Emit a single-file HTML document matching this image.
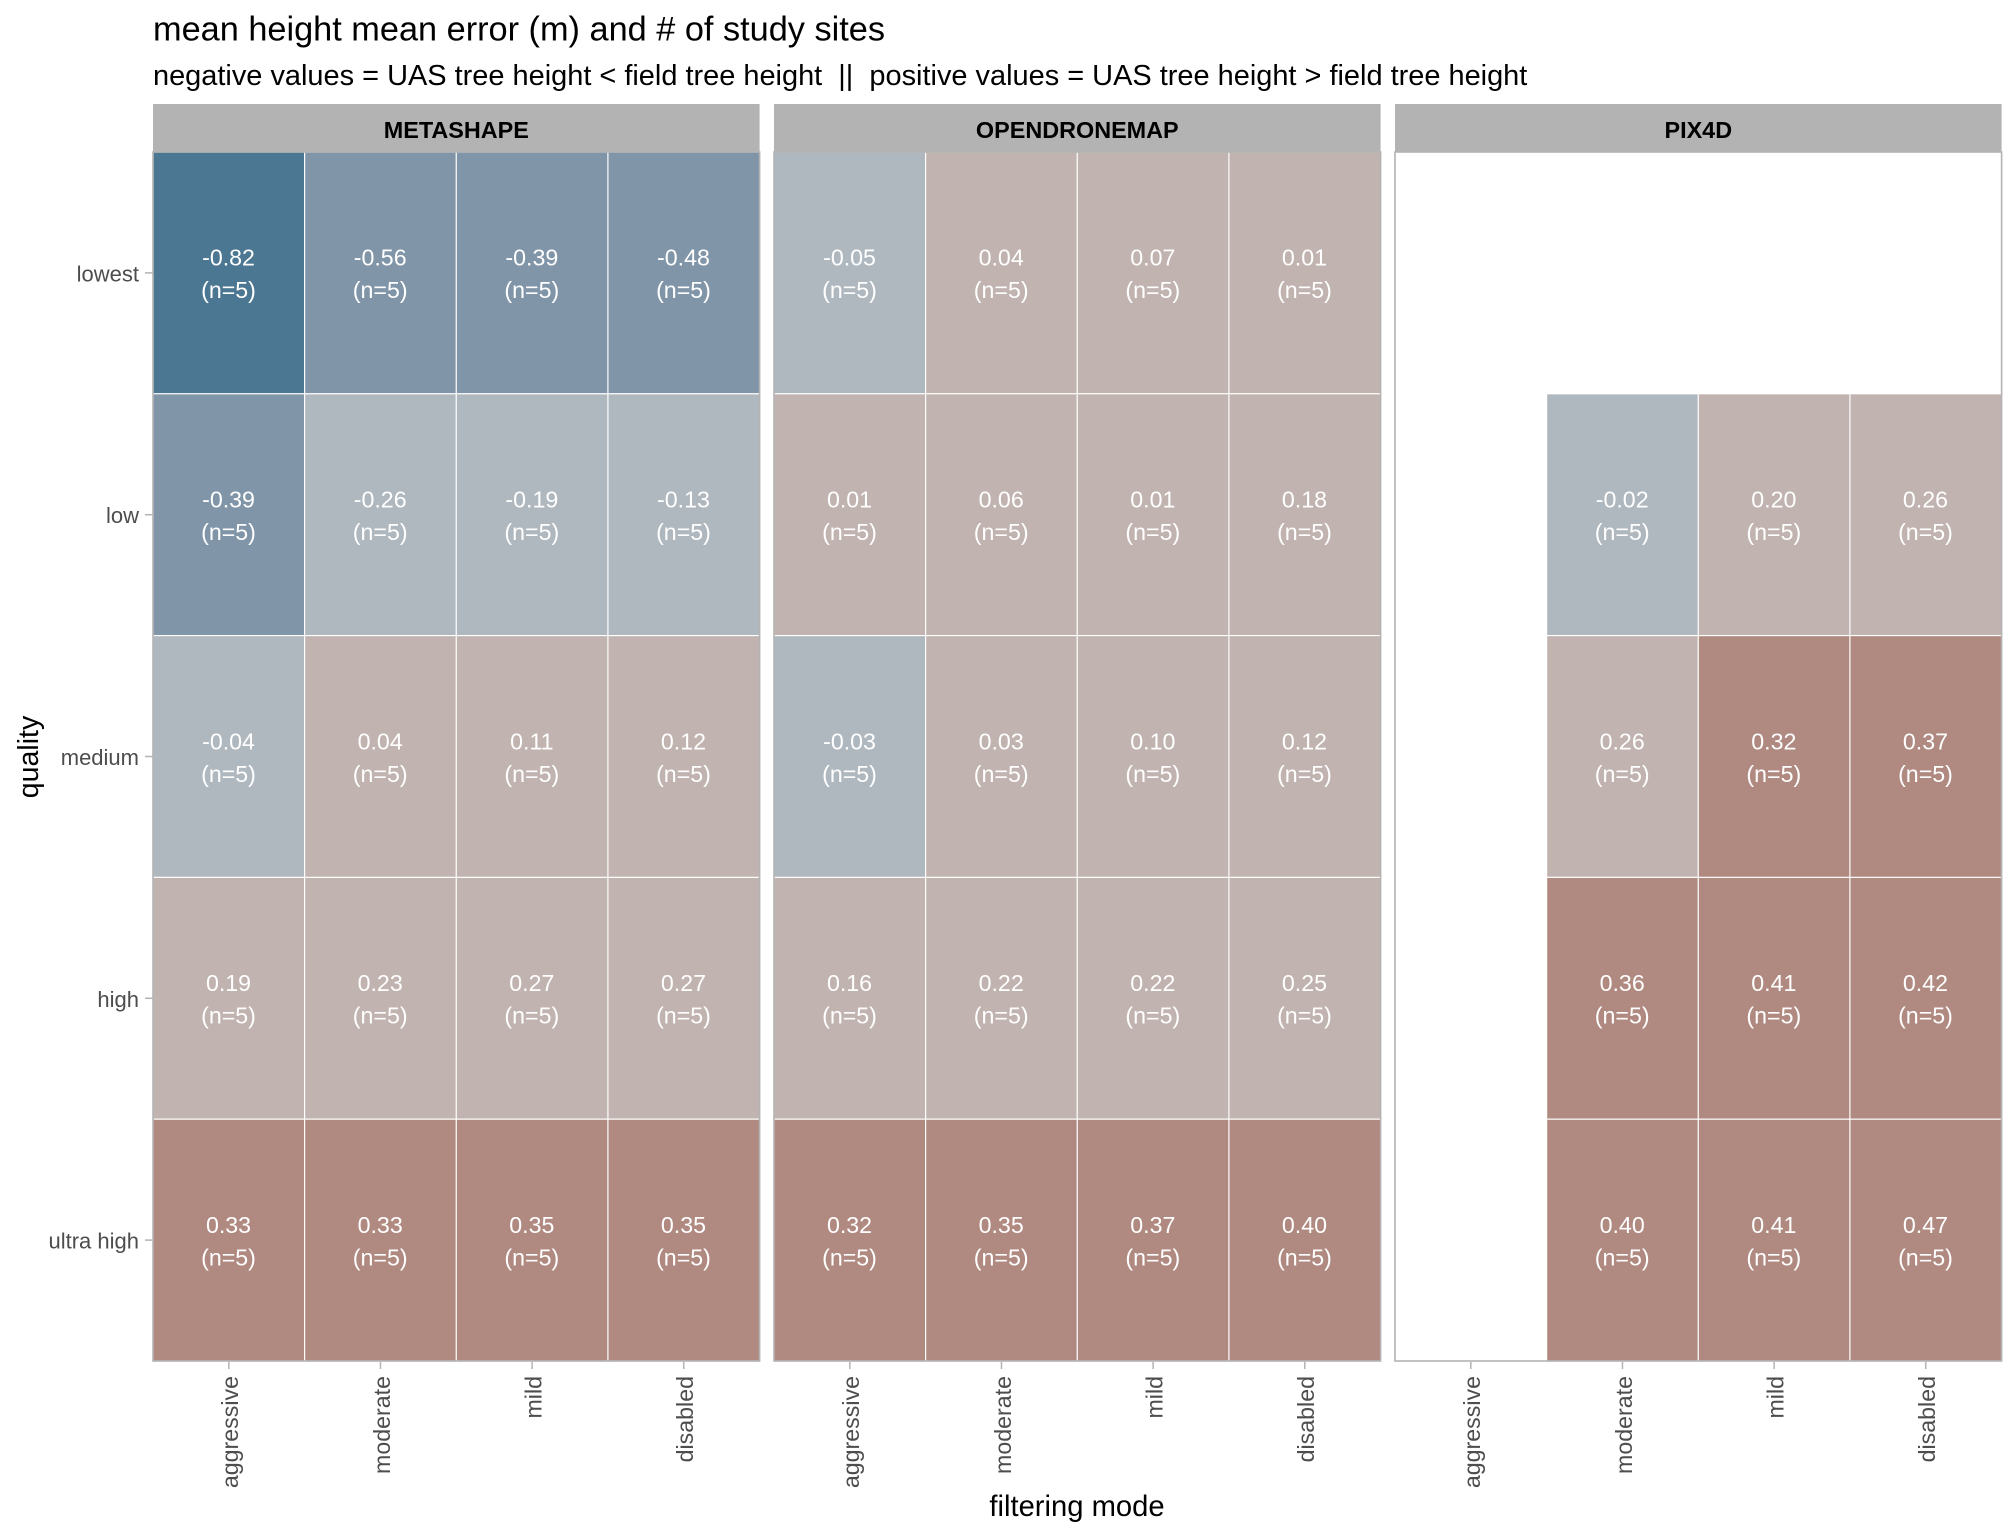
<!DOCTYPE html>
<html>
<head>
<meta charset="utf-8">
<title>mean height mean error (m) and # of study sites</title>
<style>
html,body{margin:0;padding:0;background:#fff;width:2016px;height:1536px;overflow:hidden}
svg{display:block;font-family:"Liberation Sans",Arial,sans-serif}
</style>
</head>
<body>
<svg id="chart" width="2016" height="1536" viewBox="0 0 2016 1536" xmlns="http://www.w3.org/2000/svg">
<rect width="2016" height="1536" fill="#ffffff"/>
<text x="153" y="40.5" font-size="34.3" fill="#000">mean height mean error (m) and # of study sites</text>
<text x="153" y="85" font-size="28.95" fill="#000" xml:space="preserve">negative values = UAS tree height &lt; field tree height  ||  positive values = UAS tree height &gt; field tree height</text>
<text x="1077" y="1516" font-size="29.2" text-anchor="middle" fill="#000">filtering mode</text>
<text transform="translate(38,757) rotate(-90)" font-size="28.5" text-anchor="middle" fill="#000">quality</text>
</svg>
<script>
const softwareNames = ["METASHAPE", "OPENDRONEMAP", "PIX4D"];
const qualityLevels = ["lowest", "low", "medium", "high", "ultra high"];
const filteringModes = ["aggressive", "moderate", "mild", "disabled"];
const metashapeErrors = [
  [-0.82, -0.56, -0.39, -0.48],
  [-0.39, -0.26, -0.19, -0.13],
  [-0.04, 0.04, 0.11, 0.12],
  [0.19, 0.23, 0.27, 0.27],
  [0.33, 0.33, 0.35, 0.35]
];
const opendronemapErrors = [
  [-0.05, 0.04, 0.07, 0.01],
  [0.01, 0.06, 0.01, 0.18],
  [-0.03, 0.03, 0.10, 0.12],
  [0.16, 0.22, 0.22, 0.25],
  [0.32, 0.35, 0.37, 0.40]
];
const pix4dErrors = [
  [null, null, null, null],
  [null, -0.02, 0.20, 0.26],
  [null, 0.26, 0.32, 0.37],
  [null, 0.36, 0.41, 0.42],
  [null, 0.40, 0.41, 0.47]
];
const siteCounts = [5, 5, 5];
const colorBreaks = [-0.6, -0.3, 0, 0.3];
const colorBins = ["#4c7792", "#8095a8", "#b0b8bf", "#c1b3af", "#b08a80"];

const errorsBySoftware = [metashapeErrors, opendronemapErrors, pix4dErrors];
const svg = document.getElementById('chart');
const NS = 'http://www.w3.org/2000/svg';
const plotLeft = 153, panelW = 606.6, panelGap = 14.4, stripTop = 104, panelTop = 152, panelBottom = 1361;

function panelX(p) { return plotLeft + p * (panelW + panelGap); }
function bandW() { return panelW / filteringModes.length; }
function bandH() { return (panelBottom - panelTop) / qualityLevels.length; }
function xScale(p, c) { return panelX(p) + c * bandW(); }
function yScale(r) { return panelTop + r * bandH(); }
function fillFor(v) {
  let i = 0;
  while (i < colorBreaks.length && v > colorBreaks[i]) i++;
  return colorBins[i];
}
function make(tag, attrs, parent) {
  const el = document.createElementNS(NS, tag);
  for (const k in attrs) el.setAttribute(k, attrs[k]);
  (parent || svg).appendChild(el);
  return el;
}
function slug(s) { return s.toLowerCase().replace(/\s+/g, '-'); }

// y axis
qualityLevels.forEach(function (q, r) {
  const cy = yScale(r) + bandH() / 2;
  const tick = make('line', { x1: plotLeft - 8, x2: plotLeft, y1: cy, y2: cy, stroke: '#b3b3b3', 'stroke-width': 1.5 });
  
  
  const label = make('text', { x: 139, y: cy + 8.5, 'font-size': 22, 'text-anchor': 'end', fill: '#4d4d4d' });
  
  
  label.textContent = q;
});

softwareNames.forEach(function (name, p) {
  const left = panelX(p);
  const values = errorsBySoftware[p];
  const pslug = slug(name);

  const strip = make('rect', { x: left, y: stripTop, width: panelW, height: panelTop - stripTop, fill: '#b3b3b3' });
  
  
  const stripText = make('text', { x: left + panelW / 2, y: 138, 'font-size': 23.4, 'font-weight': 'bold', 'text-anchor': 'middle', fill: '#000' });
  
  
  stripText.textContent = name;

  values.forEach(function (row, r) {
    row.forEach(function (v, c) {
      if (v === null) return;
      const cell = make('rect', { x: xScale(p, c), y: yScale(r), width: bandW(), height: bandH(), fill: fillFor(v), stroke: '#ffffff', 'stroke-width': 1.1 });
      
      
    });
  });
  values.forEach(function (row, r) {
    row.forEach(function (v, c) {
      if (v === null) return;
      const cx = xScale(p, c) + bandW() / 2 - 0.3;
      const cy = yScale(r) + bandH() / 2;
      const t1 = make('text', { x: cx, y: cy - 7.2, 'font-size': 23.2, 'text-anchor': 'middle', fill: '#ffffff' });
      
      
      t1.textContent = v.toFixed(2);
      const t2 = make('text', { x: cx, y: cy + 25.3, 'font-size': 23.2, 'text-anchor': 'middle', fill: '#ffffff' });
      
      
      t2.textContent = '(n=' + siteCounts[p] + ')';
    });
  });

  const border = make('rect', { x: left, y: panelTop, width: panelW, height: panelBottom - panelTop, fill: 'none', stroke: '#b3b3b3', 'stroke-width': 1.6 });
  
  

  filteringModes.forEach(function (m, c) {
    const cx = xScale(p, c) + bandW() / 2;
    const tick = make('line', { x1: cx, x2: cx, y1: panelBottom + 1, y2: panelBottom + 8, stroke: '#b3b3b3', 'stroke-width': 1.5 });
    
    
    const label = make('text', { transform: 'translate(' + (cx + 9.3) + ',1376) rotate(-90)', 'font-size': 23.2, 'text-anchor': 'end', fill: '#4d4d4d' });
    
    
    label.textContent = m;
  });
});
</script>
</body>
</html>
